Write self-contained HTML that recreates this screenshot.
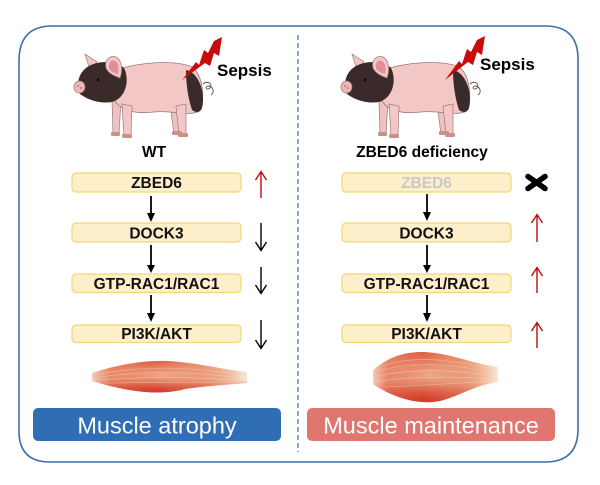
<!DOCTYPE html>
<html>
<head>
<meta charset="utf-8">
<style>
html,body{margin:0;padding:0;background:#fff;}
svg{display:block;}
text{font-family:"Liberation Sans",Arial,sans-serif;}
</style>
</head>
<body>
<svg width="600" height="485" viewBox="0 0 600 485" xmlns="http://www.w3.org/2000/svg">
<defs>
  <linearGradient id="mg" x1="0" y1="0" x2="1" y2="0">
    <stop offset="0" stop-color="#f6d6c6"/>
    <stop offset="0.12" stop-color="#e88062"/>
    <stop offset="0.4" stop-color="#dd5a40"/>
    <stop offset="0.7" stop-color="#e89472"/>
    <stop offset="0.9" stop-color="#f2c6a8"/>
    <stop offset="1" stop-color="#f8e6da"/>
  </linearGradient>
  <radialGradient id="mh" cx="0.45" cy="0.45" r="0.5">
    <stop offset="0" stop-color="#f0b896" stop-opacity="0.85"/>
    <stop offset="0.6" stop-color="#eba080" stop-opacity="0.4"/>
    <stop offset="1" stop-color="#e07050" stop-opacity="0"/>
  </radialGradient>
  <linearGradient id="mb" x1="0" y1="0" x2="0" y2="1">
    <stop offset="0.6" stop-color="#c81e14" stop-opacity="0"/>
    <stop offset="1" stop-color="#c81e14" stop-opacity="0.55"/>
  </linearGradient>
  <g id="pig">
    <!-- far legs -->
    <path d="M170,104 L181,104 L182,133 L174,134 Z" fill="#efc1c0" stroke="#9c7a7a" stroke-width="0.7"/>
    <path d="M112,100 L121,100 L119,134 L113,134 Z" fill="#efc1c0" stroke="#9c7a7a" stroke-width="0.7"/>
    <!-- body -->
    <path d="M116,70 C140,62 172,60 190,66 C204,72 206,104 198,112 C186,116 170,110 154,112 C138,114 122,112 114,100 Z" fill="#f3c7c6" stroke="#9c7a7a" stroke-width="0.8"/>
    <!-- rump -->
    <path d="M186,70 C198,72 206,92 202,108 C200,113 196,113 192,110 C188,98 186,84 186,70 Z" fill="#3b2a2a"/>
    <!-- near legs -->
    <path d="M122,104 L132,106 L131,136 L124,136 Z" fill="#f3c7c6" stroke="#9c7a7a" stroke-width="0.7"/>
    <path d="M176,106 L186,104 L186,134 L179,135 Z" fill="#f3c7c6" stroke="#9c7a7a" stroke-width="0.7"/>
    <!-- hooves -->
    <rect x="111" y="132" width="9" height="4" rx="1.5" fill="#c99088"/>
    <rect x="122" y="134" width="10" height="4" rx="1.5" fill="#c99088"/>
    <rect x="172" y="131" width="10" height="4" rx="1.5" fill="#c99088"/>
    <rect x="178" y="133" width="10" height="4" rx="1.5" fill="#c99088"/>
    <!-- back ear -->
    <path d="M85,54 L97,62 L90,70 Z" fill="#f3c7c6" stroke="#9c7a7a" stroke-width="0.7"/>
    <!-- head -->
    <path d="M86,68 C96,60 116,60 124,68 C130,80 126,98 112,102 C100,104 88,100 80,94 C76,86 78,74 86,68 Z" fill="#3b2a2a"/>
    <!-- snout -->
    <ellipse cx="79.5" cy="87" rx="5.5" ry="6" fill="#efb6b8" stroke="#9c7a7a" stroke-width="0.7"/>
    <circle cx="78" cy="86" r="0.9" fill="#a46e74"/>
    <circle cx="81" cy="88" r="0.9" fill="#a46e74"/>
    <!-- front ear -->
    <path d="M106,68 C104,60 110,55 116,57 C122,60 123,70 120,78 C114,76 108,73 106,68 Z" fill="#f3c7c6" stroke="#9c7a7a" stroke-width="0.7"/>
    <path d="M109,68 C108,62 112,59 115,61 C119,63 119,70 118,74 C114,73 110,71 109,68 Z" fill="#e58e9a"/>
    <circle cx="98" cy="80" r="1.2" fill="#000"/>
    <!-- tail -->
    <path d="M203,84 C208,80 213,84 210,88 C207,91 204,87 208,86 C213,86 215,92 211,95" fill="none" stroke="#6a4a4a" stroke-width="0.9"/>
  </g>
  <marker id="ah" markerWidth="8" markerHeight="8" refX="4" refY="4" orient="auto" markerUnits="userSpaceOnUse">
    <path d="M0,0 L8,4 L0,8 Z" fill="#000"/>
  </marker>
</defs>

<rect width="600" height="485" fill="#fff"/>

<!-- outer frame -->
<path d="M52,26 L545,26 Q578,26 578,59 L578,429 Q578,462 545,462 L50,462 Q19,462 19,431 L19,61 Q19,26 52,26 Z" fill="none" stroke="#3d6fa8" stroke-width="1.6"/>
<!-- divider -->
<line x1="298" y1="35" x2="298" y2="452" stroke="#4a78b8" stroke-width="1.3" stroke-dasharray="5,3"/>

<!-- pigs -->
<use href="#pig"/>
<use href="#pig" transform="translate(267,0)"/>

<!-- lightning -->
<path d="M222,37 L219,56 L214,53 L210,66 L205,63 L182,80 L196,62 L199,65 L204,50 L208,53 L214,41 Z" fill="#c80c0c"/>
<path d="M485,36 L482,55 L477,52 L473,65 L468,62 L445,80 L459,61 L462,64 L467,49 L471,52 L477,40 Z" fill="#c80c0c"/>

<text x="217" y="76" font-size="17" font-weight="bold" fill="#000">Sepsis</text>
<text x="480" y="70" font-size="17" font-weight="bold" fill="#000">Sepsis</text>

<text x="154" y="157" font-size="15.5" font-weight="bold" fill="#000" text-anchor="middle">WT</text>
<text x="422" y="157" font-size="15.6" font-weight="bold" fill="#000" text-anchor="middle">ZBED6 deficiency</text>

<!-- left boxes -->
<g fill="#fdefc9" stroke="#f4d577" stroke-width="1.2">
  <rect x="72" y="173" width="169" height="19" rx="4"/>
  <rect x="72" y="223" width="169" height="19" rx="4"/>
  <rect x="72" y="274" width="169" height="18.5" rx="4"/>
  <rect x="72" y="325" width="169" height="17.5" rx="4"/>
  <rect x="342" y="173" width="169" height="19" rx="4"/>
  <rect x="342" y="223" width="169" height="19" rx="4"/>
  <rect x="342" y="274" width="169" height="18.5" rx="4"/>
  <rect x="342" y="325" width="169" height="17.5" rx="4"/>
</g>
<g font-size="15.5" font-weight="bold" text-anchor="middle" fill="#111">
  <text x="156.5" y="188">ZBED6</text>
  <text x="156.5" y="238.5">DOCK3</text>
  <text x="156.5" y="289">GTP-RAC1/RAC1</text>
  <text x="156.5" y="339">PI3K/AKT</text>
  <text x="426.5" y="188" fill="#c9c9c9">ZBED6</text>
  <text x="426.5" y="238.5">DOCK3</text>
  <text x="426.5" y="289">GTP-RAC1/RAC1</text>
  <text x="426.5" y="339">PI3K/AKT</text>
</g>

<!-- flow arrows -->
<g stroke="#000" stroke-width="1.8">
  <line x1="151" y1="196" x2="151" y2="214"/>
  <line x1="151" y1="245" x2="151" y2="266"/>
  <line x1="151" y1="295" x2="151" y2="314"/>
  <line x1="427" y1="194" x2="427" y2="213"/>
  <line x1="427" y1="245" x2="427" y2="266"/>
  <line x1="427" y1="295" x2="427" y2="314"/>
</g>
<g fill="#000">
  <path d="M147,213 L155,213 L151,222 Z"/>
  <path d="M147,265 L155,265 L151,273 Z"/>
  <path d="M147,313 L155,313 L151,322 Z"/>
  <path d="M423,212 L431,212 L427,221 Z"/>
  <path d="M423,265 L431,265 L427,273 Z"/>
  <path d="M423,313 L431,313 L427,322 Z"/>
</g>

<!-- side indicator arrows -->
<g fill="none" stroke-width="1.4">
  <g stroke="#b80f0f">
    <path d="M261,198 L261,172 M255.5,180 L261,171.5 L266.5,180"/>
    <path d="M537,242 L537,215 M531.5,223 L537,214.5 L542.5,223"/>
    <path d="M537,293 L537,268 M531.5,276 L537,267.5 L542.5,276"/>
    <path d="M537,348 L537,323 M531.5,331 L537,322.5 L542.5,331"/>
  </g>
  <g stroke="#000">
    <path d="M261,223 L261,250 M255.5,242 L261,250.5 L266.5,242"/>
    <path d="M261,267 L261,293 M255.5,285 L261,293.5 L266.5,285"/>
    <path d="M261,320 L261,348 M255.5,340 L261,348.5 L266.5,340"/>
  </g>
</g>
<!-- X mark -->
<g stroke="#000" stroke-width="5.5" stroke-linecap="round">
  <line x1="528" y1="176.5" x2="545" y2="188.5"/>
  <line x1="528" y1="188.5" x2="545" y2="176.5"/>
</g>

<!-- muscles -->
<path d="M92,373 C120,364 145,360 168,361 C200,363 225,370 247,372 L247,383 C225,385 205,386 185,389 C160,396 128,392 92,381 Z" fill="url(#mg)"/>
<path d="M92,373 C120,364 145,360 168,361 C200,363 225,370 247,372 L247,383 C225,385 205,386 185,389 C160,396 128,392 92,381 Z" fill="url(#mh)"/>
<path d="M92,373 C120,364 145,360 168,361 C200,363 225,370 247,372 L247,383 C225,385 205,386 185,389 C160,396 128,392 92,381 Z" fill="url(#mb)"/>
<g stroke="#f6cdb0" stroke-width="0.6" fill="none" opacity="0.7">
  <path d="M100,374 C140,366 190,366 240,375"/>
  <path d="M100,377 C140,371 190,371 240,378"/>
  <path d="M100,380 C140,377 190,376 240,381"/>
  <path d="M105,383 C140,383 180,381 235,383"/>
</g>

<path d="M373,370 C390,356 405,352 423,352 C450,353 470,363 498,367 L498,382 C475,385 460,396 440,401 C420,405 395,399 373,384 Z" fill="url(#mg)"/>
<path d="M373,370 C390,356 405,352 423,352 C450,353 470,363 498,367 L498,382 C475,385 460,396 440,401 C420,405 395,399 373,384 Z" fill="url(#mh)"/>
<path d="M373,370 C390,356 405,352 423,352 C450,353 470,363 498,367 L498,382 C475,385 460,396 440,401 C420,405 395,399 373,384 Z" fill="url(#mb)"/>
<g stroke="#f6cdb0" stroke-width="0.6" fill="none" opacity="0.7">
  <path d="M382,366 C410,356 450,358 495,370"/>
  <path d="M378,371 C410,362 450,363 495,373"/>
  <path d="M378,376 C410,369 450,369 495,376"/>
  <path d="M378,381 C410,377 450,376 495,379"/>
  <path d="M385,387 C410,386 450,384 490,381"/>
</g>

<!-- outcome boxes -->
<rect x="33" y="408" width="248" height="33" rx="5" fill="#2f6eb5"/>
<text x="157" y="433.5" font-size="23.5" fill="#fff" text-anchor="middle">Muscle atrophy</text>
<rect x="307" y="408" width="248" height="33" rx="5" fill="#e07670"/>
<text x="431" y="433.5" font-size="23.5" fill="#fff" text-anchor="middle">Muscle maintenance</text>
</svg>
</body>
</html>
